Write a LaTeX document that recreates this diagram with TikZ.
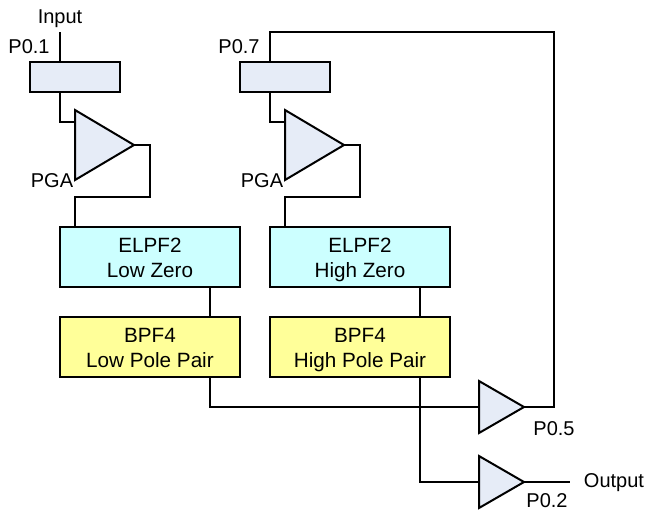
\documentclass[tikz,border=0pt]{standalone}
\usepackage{fontspec}
\setmainfont{Liberation Sans}
\usetikzlibrary{shapes.geometric}
\definecolor{ampblue}{HTML}{E6ECF7}
\definecolor{elpfcyan}{HTML}{CCFFFF}
\definecolor{bpfyellow}{HTML}{FFFF99}
\newcommand{\rowstrut}{\rule[-3.4pt]{0pt}{18.75pt}}
\tikzset{
    wire/.style={line width=1.5pt,line join=miter},
    block/.style={draw,line width=1.5pt,outer sep=0pt,inner sep=0pt,align=center,font=\fontsize{15.5}{18.75}\selectfont},
    inbox/.style={block,fill=ampblue,minimum width=67.5pt,minimum height=22.5pt},
    elpf/.style={block,fill=elpfcyan,minimum width=135pt,minimum height=45pt},
    bpf/.style={block,fill=bpfyellow,minimum width=135pt,minimum height=45pt},
    amp/.style={draw,line width=1.5pt,fill=ampblue,isosceles triangle,isosceles triangle stretches,outer sep=0pt,inner sep=0pt,anchor=apex},
    pga/.style={amp,minimum height=44.25pt,minimum width=52.5pt},
    buf/.style={amp,minimum height=33.75pt,minimum width=39pt},
    tag/.style={font=\fontsize{15}{18}\selectfont,inner sep=0pt}
}
\begin{document}
\begin{tikzpicture}[x=0.75pt,y=-0.75pt]
    \useasboundingbox (0,0) rectangle (645,512);
    \coordinate (input) at (60,32);
    \coordinate (feedtop) at (269.5,32);
    \coordinate (outend) at (570,482);

    \node[inbox] (mux1) at (75,77) {};
    \node[inbox] (mux2) at (285,77) {};
    \node[pga] (pga1) at (134,145) {};
    \node[pga] (pga2) at (344,145) {};
    \node[elpf] (elpf1) at (150,257) {\rowstrut ELPF2\\\rowstrut Low Zero};
    \node[elpf] (elpf2) at (360,257) {\rowstrut ELPF2\\\rowstrut High Zero};
    \node[bpf] (bpf1) at (150,347) {\rowstrut BPF4\\\rowstrut Low Pole Pair};
    \node[bpf] (bpf2) at (360,347) {\rowstrut BPF4\\\rowstrut High Pole Pair};
    \node[buf] (buf5) at (524,407) {};
    \node[buf] (buf2) at (524,482) {};

    \draw[wire] (input) -- (input |- mux1.north);
    \foreach \n/\xin/\xout/\xfb in {1/60/75/150,2/270/285/360} {
        \draw[wire] (\xin,92) -- (\xin,122) -- (\xout,122);
        \draw[wire] (pga\n.apex) -- (\xfb,145) -- (\xfb,197) -- (\xout,197) -- (\xout,227);
    }
    \draw[wire] (210,287) -- (210,317);
    \draw[wire] (420,287) -- (420,317);
    \draw[wire] (210,377) -- (210,407) -- (479,407);
    \draw[wire] (420,377) -- (420,482) -- (479,482);
    \draw[wire] (buf5.apex) -- (554,407) -- (554,32) -- (feedtop) -- (269.5,62);
    \draw[wire] (buf2.apex) -- (outend);

    \node[tag] (lblinput) at (60,19) {Input};
    \node[tag] (lblp01) at (29,47) {P0.1};
    \node[tag] (lblp07) at (239,47) {P0.7};
    \node[tag] (lblpga1) at (52,181) {PGA};
    \node[tag] (lblpga2) at (262,181) {PGA};
    \node[tag] (lblp05) at (554,429) {P0.5};
    \node[tag] (lblp02) at (547,501) {P0.2};
    \node[tag] (lbloutput) at (614,483) {Output};
\end{tikzpicture}
\end{document}
